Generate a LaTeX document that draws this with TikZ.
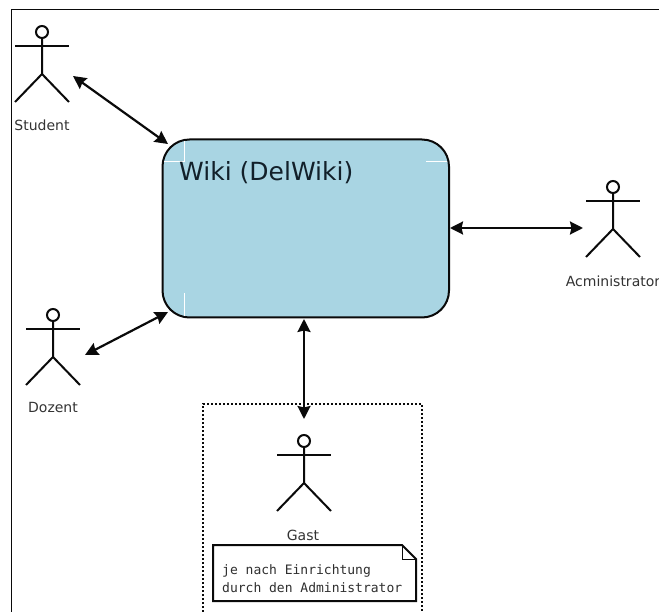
\documentclass[tikz,border=0pt]{standalone}
\usepackage{fontspec}
\setmainfont{DejaVu Sans}
\newfontfamily\notefont{DejaVu Sans Mono}
\usetikzlibrary{arrows.meta,calc}
\definecolor{wikiblue}{HTML}{A9D5E3}
\definecolor{inkcol}{HTML}{0A0A0A}
\definecolor{labelcol}{HTML}{333333}
\definecolor{titlecol}{HTML}{12202A}
\tikzset{
  figline/.style={draw=inkcol,line width=2pt},
  figlabel/.style={font=\fontsize{14}{16}\selectfont,text=labelcol,inner sep=0pt,anchor=center},
  link/.style={draw=inkcol,line width=2.2pt,{Stealth[length=13pt,width=13pt,inset=1.5pt]}-{Stealth[length=13pt,width=13pt,inset=1.5pt]}},
  wikibox/.style={draw=inkcol,line width=2pt,fill=wikiblue,rounded corners=27pt},
  cornermark/.style={draw=white,line width=0.8pt},
}
\newcommand{\stickfig}[3]{% name, x, head y
  \coordinate (#1) at (#2,#3);
  \draw[figline] (#1) ++(0,6) -- ++(0,36) -- ++(-27,28);
  \draw[figline] (#1) ++(0,42) -- ++(27,28);
  \draw[figline] (#1) ++(-27,14) -- ++(54,0);
  \draw[figline,fill=white] (#1) circle (6);
}
\begin{document}
\begin{tikzpicture}[x=1pt,y=-1pt]
\useasboundingbox (0,0) rectangle (659,612);
\fill[white] (0,0) rectangle (659,612);
% outer frame
\draw[inkcol,line width=1.2pt] (659,9.5) -- (11.5,9.5) -- (11.5,612);
% dotted guest area
\draw[inkcol,line width=2pt,dash pattern=on 2pt off 2pt] (203,612) -- (203,404) -- (422,404) -- (422,612);
% wiki box
\draw[wikibox] (162.5,139.5) rectangle (449,317.5);
\coordinate (wikiA) at (168,144);
\coordinate (wikiB) at (450,228);
\coordinate (wikiC) at (168,312);
\coordinate (wikiD) at (304,319);
\draw[cornermark] (184,141) -- (184,161) -- (164,161);
\draw[cornermark] (426,161) -- (447,161);
\draw[cornermark] (184,293) -- (184,316);
\node[anchor=west,inner sep=0pt,text=titlecol,font=\fontsize{25}{28}\selectfont] (wikititle) at (179,172.5) {Wiki (DelWiki)};
% actors
\stickfig{student}{42}{32}
\stickfig{dozent}{53}{315}
\stickfig{admin}{613}{187}
\stickfig{gast}{304}{441}
\node[figlabel] (studentlabel) at (42,125) {Student};
\node[figlabel] (dozentlabel) at (53,407) {Dozent};
\node[figlabel] (adminlabel) at (613,281) {Acministrator};
\node[figlabel] (gastlabel) at (303,535) {Gast};
% connector ends
\coordinate (studentEnd) at (73,76);
\coordinate (dozentEnd) at (85,355);
\coordinate (adminEnd) at (583,228);
\coordinate (gastEnd) at (304,419);
\draw[link] (studentEnd) -- (wikiA);
\draw[link] (wikiB) -- (adminEnd);
\draw[link] (wikiC) -- (dozentEnd);
\draw[link] (wikiD) -- (gastEnd);
% note
\draw[inkcol,line width=2pt,fill=white] (213,545) -- (402,545) -- (416,559) -- (416,601) -- (213,601) -- cycle;
\draw[inkcol,line width=1pt] (402,545) -- (402,559) -- (416,559);
\node[anchor=west,inner sep=0pt,text=inkcol!85,font=\notefont\fontsize{13}{18}\selectfont,align=left] (note) at (222,579) {je nach Einrichtung\\durch den Administrator};
\end{tikzpicture}
\end{document}
